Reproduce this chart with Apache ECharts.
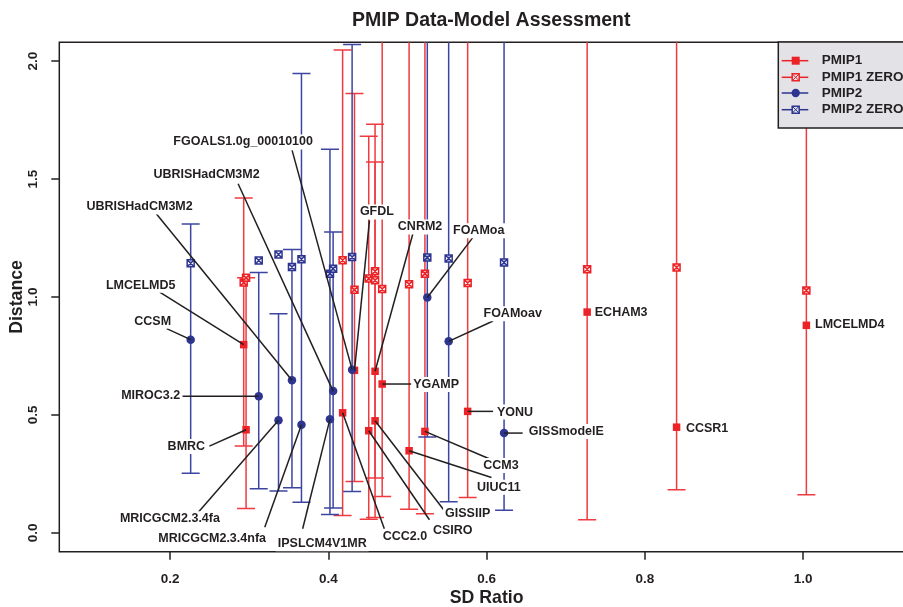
<!DOCTYPE html>
<html>
<head>
<meta charset="utf-8">
<script src="https://cdn.jsdelivr.net/npm/echarts@6/dist/echarts.min.js"></script>
<style>html,body{margin:0;padding:0;background:#fff}#c{width:903px;height:607px}</style>
</head>
<body>
<div id="c"></div>
<script>
// ---------------- DATA ----------------
const titleText = 'PMIP Data-Model Assessment';
const xTitle = 'SD Ratio';
const yTitle = 'Distance';
const xTicks = [0.2, 0.4, 0.6, 0.8, 1.0];
const yTicks = [0.0, 0.5, 1.0, 1.5, 2.0];
const legendNames = ['PMIP1', 'PMIP1 ZERO', 'PMIP2', 'PMIP2 ZERO'];

const pmip1Models = ['LMCELMD5','BMRC','CCC2.0','CSIRO','GISSIIP','GFDL','CNRM2','YGAMP','UIUC11','CCM3','YONU','ECHAM3','CCSR1','LMCELMD4'];
const pmip1SD     = [0.293, 0.296, 0.418, 0.451, 0.459, 0.433, 0.459, 0.468, 0.502, 0.522, 0.576, 0.727, 0.840, 1.004];
const pmip1Dist   = [0.798, 0.437, 0.509, 0.433, 0.475, 0.689, 0.685, 0.631, 0.348, 0.430, 0.515, 0.936, 0.448, 0.880];
const pmip1Zero   = [1.061, 1.082, 1.156, 1.078, 1.109, 1.031, 1.071, 1.034, 1.054, 1.099, 1.059, 1.118, 1.125, 1.028];
const pmip1Low    = [0.368, 0.103, 0.074, 0.058, 0.065, 0.218, 0.232, 0.154, 0.100, 0.081, 0.150, 0.055, 0.183, 0.161];
const pmip1High   = [1.420, 1.082, 2.047, 1.682, 1.572, 1.863, 1.732, 2.300, 2.300, 2.300, 2.300, 2.300, 2.300, 2.300];

const pmip2Models = ['CCSM','MIROC3.2','MRICGCM2.3.4fa','UBRISHadCM3M2','MRICGCM2.3.4nfa','IPSLCM4V1MR','UBRISHadCM3M2','FGOALS1.0g_00010100','FOAMoa','FOAMoav','GISSmodelE'];
const pmip2SD     = [0.226, 0.312, 0.337, 0.354, 0.366, 0.402, 0.406, 0.430, 0.525, 0.552, 0.622];
const pmip2Dist   = [0.819, 0.579, 0.477, 0.647, 0.458, 0.482, 0.601, 0.692, 0.998, 0.812, 0.423];
const pmip2Zero   = [1.143, 1.155, 1.180, 1.127, 1.160, 1.099, 1.120, 1.170, 1.167, 1.163, 1.146];
const pmip2Low    = [0.253, 0.187, 0.177, 0.191, 0.130, 0.078, 0.105, 0.175, 0.406, 0.132, 0.096];
const pmip2High   = [1.310, 1.104, 0.929, 1.201, 1.948, 1.626, 1.276, 2.071, 2.300, 2.300, 2.300];

// ---------------- LAYOUT (label offsets in px relative to the point) ----------------
const pmip1LabelLayout = [
  {t:[-103,-59.3], l:[-84,-52.6]},   // LMCELMD5
  {t:[-59.7,16.7], l:[-36.7,16.4]},  // BMRC
  {t:[62.4,123.7], l:[41.7,116]},    // CCC2.0
  {t:[84,99.7],    l:[60.7,89]},     // CSIRO
  {t:[92.6,92.4],  l:[68.6,89]},     // GISSIIP
  {t:[22.4,-158.3],l:[15,-150]},     // GFDL
  {t:[45,-144.3],  l:[38,-138.3]},   // CNRM2
  {t:[54,0.6],     l:[29.4,0]},      // YGAMP
  {t:[89.7,36.4],  l:[82.4,26.7]},   // UIUC11
  {t:[76,34],      l:[64.3,27.3]},   // CCM3
  {t:[47.4,0.7],   l:[25.4,0]},      // YONU
  {t:[34,0],       l:null},          // ECHAM3
  {t:[30.5,1],     l:null},          // CCSR1
  {t:[43.4,-1],    l:null}           // LMCELMD4
];
const pmip2LabelLayout = [
  {t:[-38,-18.6],   l:[-24,-11]},      // CCSM
  {t:[-108,-1],     l:[-76.3,0]},      // MIROC3.2
  {t:[-108.6,98.3], l:[-80,91.7]},     // MRICGCM2.3.4fa
  {t:[-152.4,-173.3], l:[-136.7,-167.7]}, // UBRIS (lower label)
  {t:[-89.3,114],   l:[-36.7,102.4]},  // MRICGCM2.3.4nfa
  {t:[-7.7,124.6],  l:[-27.3,109.6]},  // IPSLCM4V1MR
  {t:[-126.6,-216.7], l:[-95,-207.4]}, // UBRIS (upper label)
  {t:[-109,-227.6], l:[-60,-219.3]},   // FGOALS
  {t:[51.4,-66.6],  l:[46,-60.6]},     // FOAMoa
  {t:[64,-27.7],    l:[44.4,-20.3]},   // FOAMoav
  {t:[62.3,-1.7],   l:[18.6,0]}        // GISSmodelE
];

// ---------------- STYLE ----------------
const FONT = '"Liberation Sans", Arial, Helvetica, sans-serif';
const INK = '#231f20';
const RED = '#ec2227';
const RED_BAR = '#ef3a3f';
const BLUE = '#2d3591';
const BLUE_BAR = '#3c45a0';
const ZERO_PATH = 'path://M0,0H10V10H0Z M0,0L10,10 M10,0L0,10';

function errorBarSeries(sd, low, high, color) {
  return {
    type: 'custom', coordinateSystem: 'cartesian2d', clip: true, silent: true, z: 2,
    data: sd.map((x, i) => [x, low[i], high[i]]),
    encode: { x: 0, y: [1, 2] },
    renderItem(params, api) {
      const lo = api.coord([api.value(0), api.value(1)]);
      const hi = api.coord([api.value(0), api.value(2)]);
      const st = { stroke: color, lineWidth: 1.5 };
      const cap = 9;
      return { type: 'group', children: [
        { type: 'line', shape: { x1: lo[0], y1: lo[1], x2: hi[0], y2: hi[1] }, style: st },
        { type: 'line', shape: { x1: lo[0] - cap, y1: lo[1], x2: lo[0] + cap, y2: lo[1] }, style: st },
        { type: 'line', shape: { x1: hi[0] - cap, y1: hi[1], x2: hi[0] + cap, y2: hi[1] }, style: st }
      ]};
    }
  };
}

function labelSeries(models, sd, dist, layout) {
  return {
    type: 'custom', coordinateSystem: 'cartesian2d', clip: false, silent: true, z: 10,
    data: models.map((m, i) => [sd[i], dist[i], i]),
    encode: { x: 0, y: 1 },
    renderItem(params, api) {
      const i = api.value(2);
      const p = api.coord([api.value(0), api.value(1)]);
      const L = layout[i];
      const ch = [];
      if (L.l) ch.push({ type: 'line', z2: 1, shape: { x1: p[0] + L.l[0], y1: p[1] + L.l[1], x2: p[0], y2: p[1] },
                         style: { stroke: INK, lineWidth: 1.5 } });
      ch.push({ type: 'text', z2: 2, x: p[0] + L.t[0], y: p[1] + L.t[1],
                style: { text: models[i], font: 'bold 12.5px ' + FONT, fill: INK, align: 'center', verticalAlign: 'middle',
                         backgroundColor: '#ffffff', padding: [1, 2] } });
      return { type: 'group', children: ch };
    }
  };
}

const chart = echarts.init(document.getElementById('c'), null, { renderer: 'canvas' });

// legend drawn as graphic
const legX = 778.3, legY = 42, rowY = [60.7, 77.3, 93, 109.7];
const legColors = [RED, RED, BLUE, BLUE];
const legendGraphic = [{ type: 'rect', shape: { x: legX, y: legY, width: 150, height: 86 },
  style: { fill: '#e3e3e7', stroke: INK, lineWidth: 1.5 }, z: 100 }];
legendNames.forEach((n, k) => {
  const y = rowY[k], c = legColors[k], cx = 795.7;
  legendGraphic.push({ type: 'line', shape: { x1: 781.7, y1: y, x2: 808.3, y2: y }, style: { stroke: c, lineWidth: 1.5 }, z: 101 });
  if (k === 0) legendGraphic.push({ type: 'rect', shape: { x: cx - 4, y: y - 4, width: 8, height: 8 }, style: { fill: c }, z: 102 });
  else if (k === 2) legendGraphic.push({ type: 'circle', shape: { cx: cx, cy: y, r: 4.2 }, style: { fill: c }, z: 102 });
  else {
    legendGraphic.push({ type: 'rect', shape: { x: cx - 3.5, y: y - 3.5, width: 7, height: 7 }, style: { fill: '#e3e3e7', stroke: c, lineWidth: 1.5 }, z: 102 });
    legendGraphic.push({ type: 'polyline', shape: { points: [[cx - 3.5, y - 3.5], [cx + 3.5, y + 3.5]] }, style: { stroke: c, lineWidth: 1 }, z: 102 });
    legendGraphic.push({ type: 'polyline', shape: { points: [[cx + 3.5, y - 3.5], [cx - 3.5, y + 3.5]] }, style: { stroke: c, lineWidth: 1 }, z: 102 });
  }
  legendGraphic.push({ type: 'text', x: 821.7, y: y, style: { text: n, font: 'bold 13.5px ' + FONT, fill: INK, verticalAlign: 'middle', align: 'left' }, z: 102 });
});

chart.setOption({
  animation: false,
  backgroundColor: '#ffffff',
  title: { text: titleText, left: 352, top: 11, padding: 0,
           textStyle: { fontFamily: FONT, fontWeight: 'bold', fontSize: 19.5, color: INK } },
  grid: { left: 59.3, top: 42.3, right: -11, bottom: 55.3, containLabel: false, outerBoundsMode: 'none',
          show: true, borderColor: INK, borderWidth: 1.5, backgroundColor: 'transparent' },
  xAxis: {
    type: 'value', min: 0.06, max: 1.14,
    name: xTitle, nameLocation: 'middle', nameGap: 37, nameMoveOverlap: false,
    nameTextStyle: { fontFamily: FONT, fontWeight: 'bold', fontSize: 17.7, color: INK },
    axisLine: { show: false, onZero: false },
    axisTick: { show: true, length: 8, lineStyle: { color: INK, width: 1.5 }, customValues: xTicks },
    axisLabel: { customValues: xTicks, formatter: v => v.toFixed(1), margin: 21,
                 fontFamily: FONT, fontWeight: 'bold', fontSize: 13.5, color: INK },
    splitLine: { show: false }
  },
  yAxis: {
    type: 'value', min: -0.08, max: 2.08,
    name: yTitle, nameLocation: 'middle', nameGap: 33, nameRotate: 90, nameMoveOverlap: false,
    nameTextStyle: { fontFamily: FONT, fontWeight: 'bold', fontSize: 17.7, color: INK },
    axisLine: { show: false, onZero: false },
    axisTick: { show: true, length: 8, lineStyle: { color: INK, width: 1.5 }, customValues: yTicks },
    axisLabel: { customValues: yTicks, formatter: v => v.toFixed(1), rotate: 90, margin: 19,
                 fontFamily: FONT, fontWeight: 'bold', fontSize: 13.5, color: INK },
    splitLine: { show: false }
  },
  series: [
    errorBarSeries(pmip1SD, pmip1Low, pmip1High, RED_BAR),
    errorBarSeries(pmip2SD, pmip2Low, pmip2High, BLUE_BAR),
    { name: 'PMIP1 ZERO', type: 'scatter', z: 4, silent: true, symbol: ZERO_PATH, symbolSize: 7,
      itemStyle: { color: 'rgba(255,255,255,0.6)', borderColor: RED, borderWidth: 1.5, opacity: 1 },
      data: pmip1SD.map((x, i) => [x, pmip1Zero[i]]) },
    { name: 'PMIP2 ZERO', type: 'scatter', z: 4, silent: true, symbol: ZERO_PATH, symbolSize: 7,
      itemStyle: { color: 'rgba(255,255,255,0.6)', borderColor: BLUE, borderWidth: 1.5, opacity: 1 },
      data: pmip2SD.map((x, i) => [x, pmip2Zero[i]]) },
    { name: 'PMIP1', type: 'scatter', z: 5, silent: true, symbol: 'rect', symbolSize: 7.5,
      itemStyle: { color: RED, opacity: 1 },
      data: pmip1SD.map((x, i) => [x, pmip1Dist[i]]) },
    { name: 'PMIP2', type: 'scatter', z: 5, silent: true, symbol: 'circle', symbolSize: 8.5,
      itemStyle: { color: BLUE, opacity: 1 },
      data: pmip2SD.map((x, i) => [x, pmip2Dist[i]]) },
    labelSeries(pmip1Models, pmip1SD, pmip1Dist, pmip1LabelLayout),
    labelSeries(pmip2Models, pmip2SD, pmip2Dist, pmip2LabelLayout)
  ],
  graphic: legendGraphic
});
</script>
</body>
</html>
